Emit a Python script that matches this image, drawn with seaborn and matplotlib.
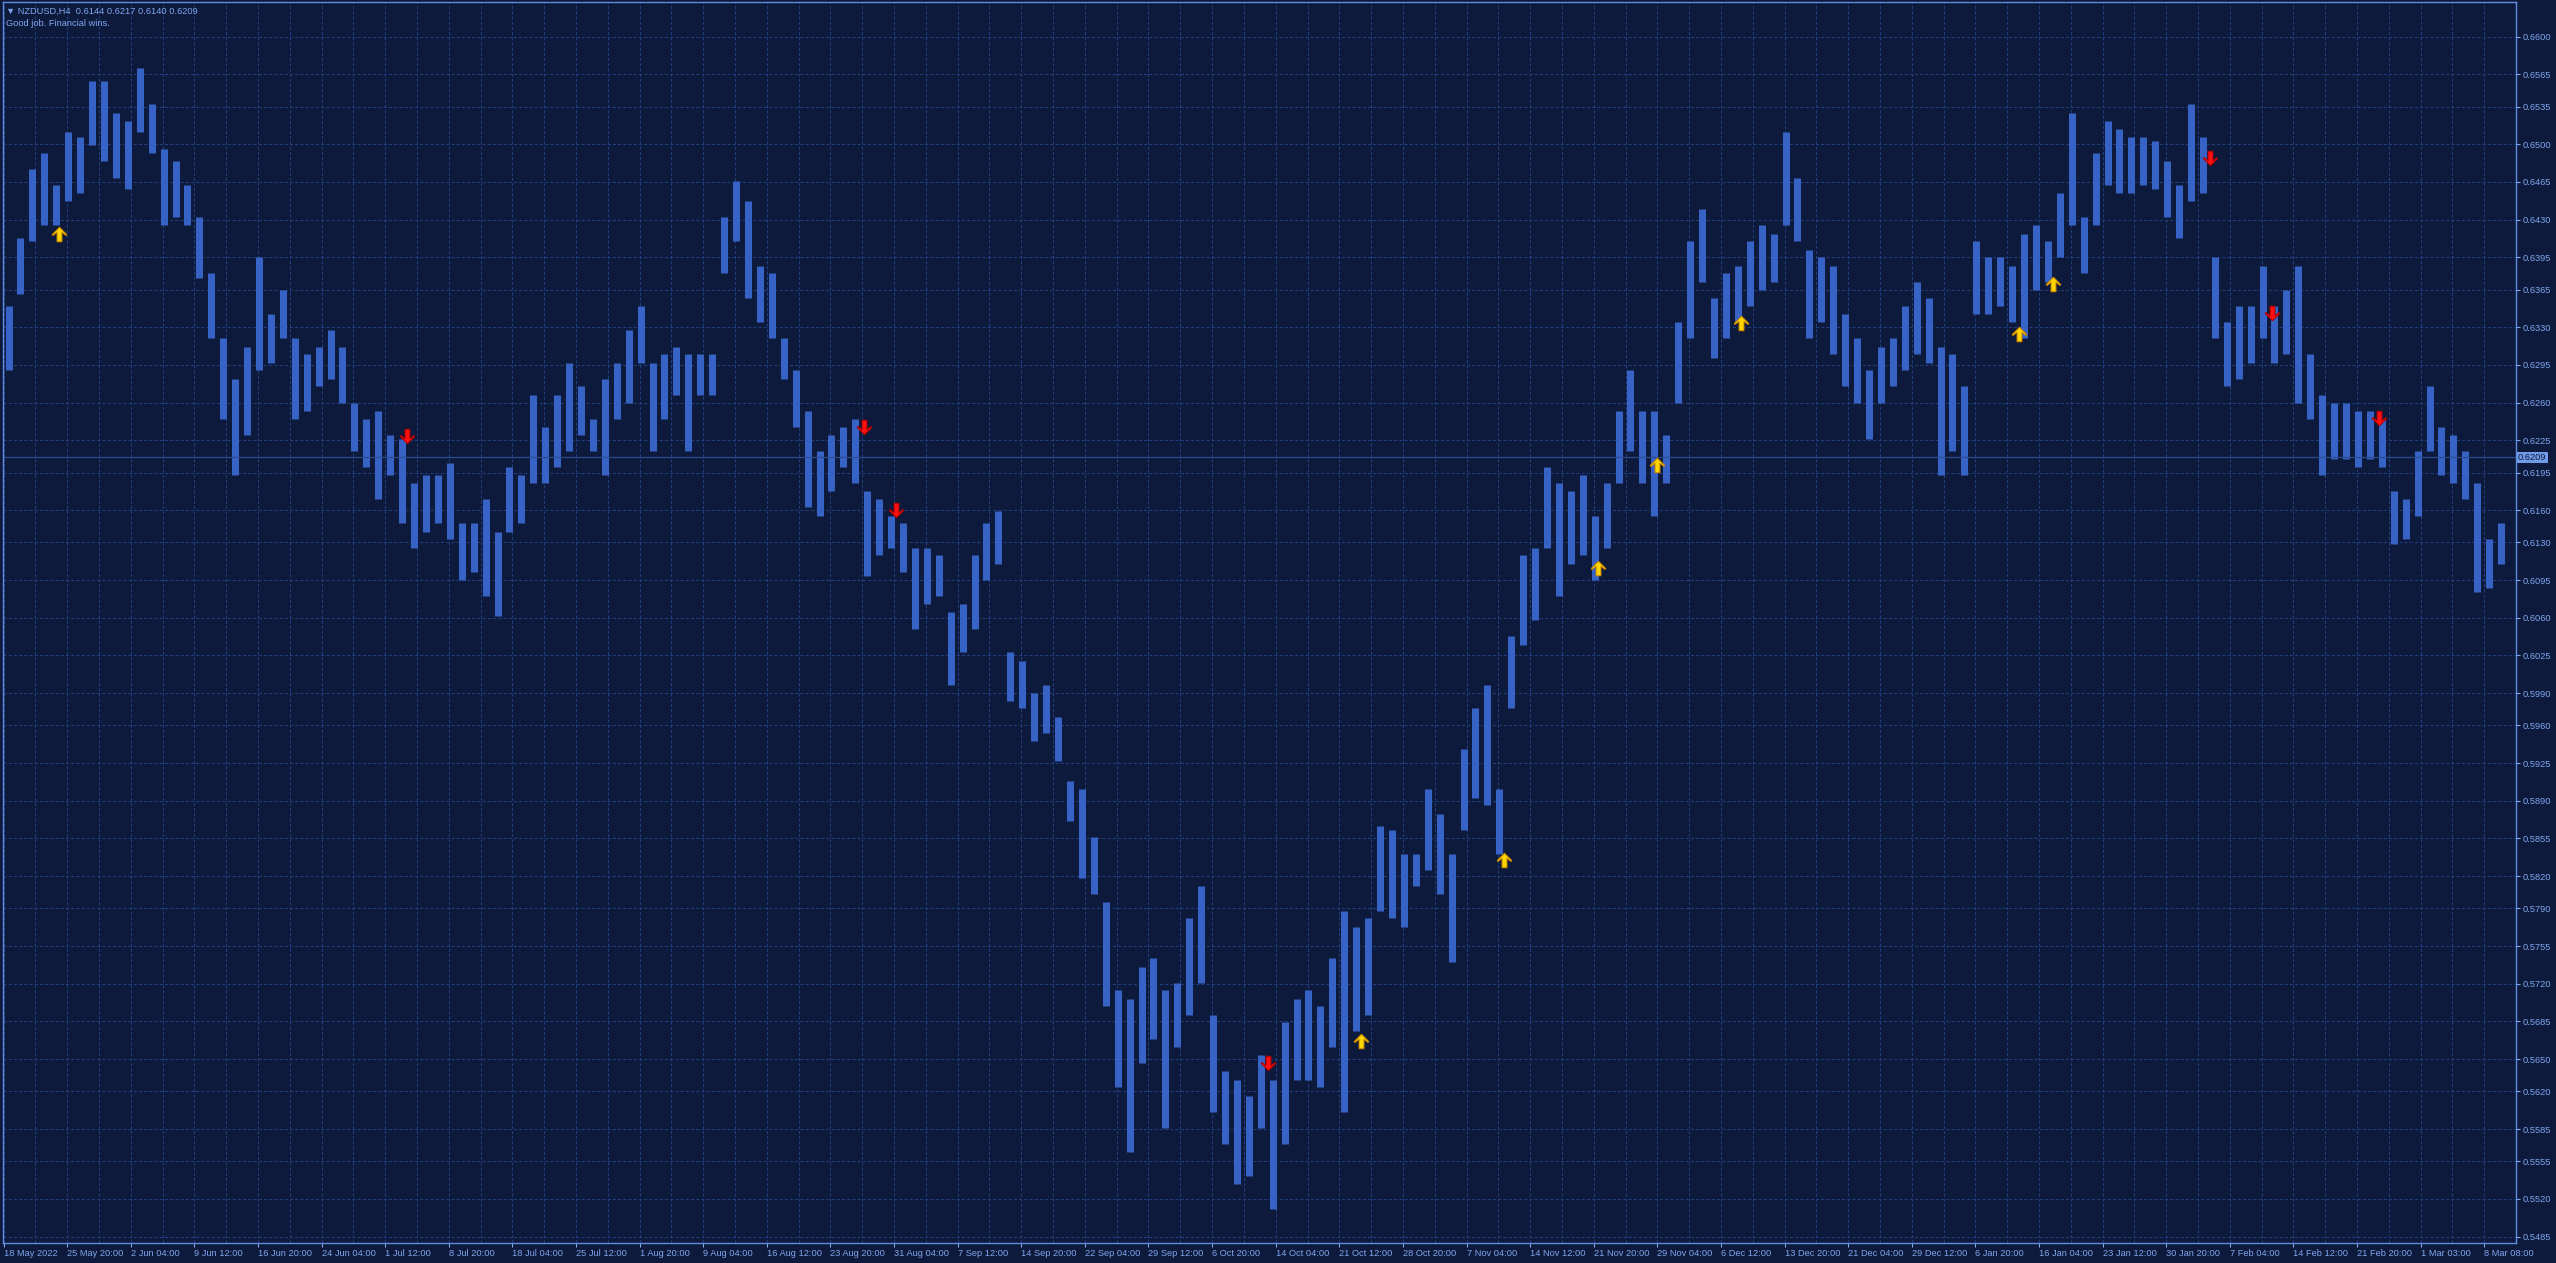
import matplotlib
matplotlib.use("Agg")
import matplotlib.pyplot as plt
from matplotlib.path import Path
from matplotlib.transforms import blended_transform_factory
import numpy as np
import seaborn as sns

day_high = [
    0.6350, 0.6413, 0.6477, 0.6492, 0.6462, 0.6511, 0.6507, 0.6559, 0.6559, 0.6529,
    0.6522, 0.6571, 0.6537, 0.6496, 0.6484, 0.6462, 0.6432, 0.6380, 0.6320, 0.6282,
    0.6312, 0.6395, 0.6342, 0.6365, 0.6320, 0.6305, 0.6312, 0.6327, 0.6312, 0.6260,
    0.6245, 0.6252, 0.6230, 0.6226, 0.6185, 0.6193, 0.6193, 0.6204, 0.6148, 0.6148,
    0.6170, 0.6140, 0.6200, 0.6193, 0.6267, 0.6237, 0.6267, 0.6297, 0.6275, 0.6245,
    0.6282, 0.6297, 0.6327, 0.6350, 0.6297, 0.6305, 0.6312, 0.6305, 0.6305, 0.6305,
    0.6432, 0.6466, 0.6447, 0.6387, 0.6380, 0.6320, 0.6290, 0.6252, 0.6215, 0.6230,
    0.6237, 0.6245, 0.6178, 0.6170, 0.6155, 0.6148, 0.6125, 0.6125, 0.6118, 0.6065,
    0.6073, 0.6118, 0.6148, 0.6159, 0.6028, 0.6020, 0.5990, 0.5998, 0.5968, 0.5908,
    0.5901, 0.5856, 0.5796, 0.5714, 0.5706, 0.5736, 0.5744, 0.5714, 0.5721, 0.5781,
    0.5811, 0.5691, 0.5639, 0.5631, 0.5616, 0.5654, 0.5631, 0.5684, 0.5706, 0.5714,
    0.5699, 0.5744, 0.5788, 0.5773, 0.5781, 0.5867, 0.5863, 0.5841, 0.5841, 0.5901,
    0.5878, 0.5841, 0.5938, 0.5976, 0.5998, 0.5901, 0.6043, 0.6118, 0.6125, 0.6200,
    0.6185, 0.6178, 0.6193, 0.6155, 0.6185, 0.6252, 0.6290, 0.6252, 0.6252, 0.6230,
    0.6335, 0.6410, 0.6440, 0.6357, 0.6380, 0.6387, 0.6410, 0.6425, 0.6417, 0.6511,
    0.6469, 0.6402, 0.6395, 0.6387, 0.6342, 0.6320, 0.6290, 0.6312, 0.6320, 0.6350,
    0.6372, 0.6357, 0.6312, 0.6305, 0.6275, 0.6410, 0.6395, 0.6395, 0.6387, 0.6417,
    0.6425, 0.6410, 0.6455, 0.6529, 0.6432, 0.6492, 0.6522, 0.6514, 0.6507, 0.6507,
    0.6503, 0.6484, 0.6462, 0.6537, 0.6507, 0.6395, 0.6335, 0.6350, 0.6350, 0.6387,
    0.6350, 0.6365, 0.6387, 0.6305, 0.6267, 0.6260, 0.6260, 0.6252, 0.6252, 0.6245,
    0.6178, 0.6170, 0.6215, 0.6275, 0.6237, 0.6230, 0.6215, 0.6185, 0.6133, 0.6148,
]
day_low = [
    0.6290, 0.6361, 0.6410, 0.6425, 0.6425, 0.6447, 0.6455, 0.6499, 0.6484, 0.6469,
    0.6458, 0.6511, 0.6492, 0.6425, 0.6432, 0.6425, 0.6376, 0.6320, 0.6245, 0.6193,
    0.6230, 0.6290, 0.6297, 0.6320, 0.6245, 0.6252, 0.6275, 0.6282, 0.6260, 0.6215,
    0.6200, 0.6170, 0.6193, 0.6148, 0.6125, 0.6140, 0.6148, 0.6133, 0.6095, 0.6103,
    0.6080, 0.6062, 0.6140, 0.6148, 0.6185, 0.6185, 0.6200, 0.6215, 0.6230, 0.6215,
    0.6193, 0.6245, 0.6260, 0.6297, 0.6215, 0.6245, 0.6267, 0.6215, 0.6267, 0.6267,
    0.6380, 0.6410, 0.6357, 0.6335, 0.6320, 0.6282, 0.6237, 0.6163, 0.6155, 0.6178,
    0.6200, 0.6185, 0.6099, 0.6118, 0.6125, 0.6103, 0.6050, 0.6073, 0.6080, 0.5998,
    0.6028, 0.6050, 0.6095, 0.6110, 0.5983, 0.5976, 0.5946, 0.5953, 0.5927, 0.5871,
    0.5818, 0.5803, 0.5699, 0.5624, 0.5564, 0.5646, 0.5669, 0.5586, 0.5661, 0.5691,
    0.5721, 0.5601, 0.5571, 0.5534, 0.5541, 0.5586, 0.5511, 0.5571, 0.5631, 0.5631,
    0.5624, 0.5661, 0.5601, 0.5676, 0.5691, 0.5788, 0.5781, 0.5773, 0.5811, 0.5826,
    0.5803, 0.5740, 0.5863, 0.5893, 0.5886, 0.5841, 0.5976, 0.6035, 0.6058, 0.6125,
    0.6080, 0.6110, 0.6118, 0.6095, 0.6125, 0.6185, 0.6215, 0.6185, 0.6155, 0.6185,
    0.6260, 0.6320, 0.6372, 0.6301, 0.6320, 0.6335, 0.6350, 0.6365, 0.6372, 0.6425,
    0.6410, 0.6320, 0.6335, 0.6305, 0.6275, 0.6260, 0.6226, 0.6260, 0.6275, 0.6290,
    0.6305, 0.6297, 0.6193, 0.6215, 0.6193, 0.6342, 0.6342, 0.6350, 0.6335, 0.6320,
    0.6365, 0.6372, 0.6395, 0.6425, 0.6380, 0.6425, 0.6462, 0.6455, 0.6455, 0.6462,
    0.6458, 0.6432, 0.6413, 0.6447, 0.6455, 0.6320, 0.6275, 0.6282, 0.6297, 0.6320,
    0.6297, 0.6305, 0.6260, 0.6245, 0.6193, 0.6208, 0.6208, 0.6200, 0.6208, 0.6200,
    0.6129, 0.6133, 0.6155, 0.6215, 0.6193, 0.6185, 0.6170, 0.6084, 0.6088, 0.6110,
]

date_labels = [
    "18 May 2022", "25 May 20:00", "2 Jun 04:00", "9 Jun 12:00", "16 Jun 20:00",
    "24 Jun 04:00", "1 Jul 12:00", "8 Jul 20:00", "18 Jul 04:00", "25 Jul 12:00",
    "1 Aug 20:00", "9 Aug 04:00", "16 Aug 12:00", "23 Aug 20:00", "31 Aug 04:00",
    "7 Sep 12:00", "14 Sep 20:00", "22 Sep 04:00", "29 Sep 12:00", "6 Oct 20:00",
    "14 Oct 04:00", "21 Oct 12:00", "28 Oct 20:00", "7 Nov 04:00", "14 Nov 12:00",
    "21 Nov 20:00", "29 Nov 04:00", "6 Dec 12:00", "13 Dec 20:00", "21 Dec 04:00",
    "29 Dec 12:00", "6 Jan 20:00", "16 Jan 04:00", "23 Jan 12:00", "30 Jan 20:00",
    "7 Feb 04:00", "14 Feb 12:00", "21 Feb 20:00", "1 Mar 03:00", "8 Mar 08:00",
]
price_ticks = [
    0.6600, 0.6565, 0.6535, 0.6500, 0.6465, 0.6430, 0.6395, 0.6365, 0.6330, 0.6295,
    0.6260, 0.6225, 0.6195, 0.6160, 0.6130, 0.6095, 0.6060, 0.6025, 0.5990, 0.5960,
    0.5925, 0.5890, 0.5855, 0.5820, 0.5790, 0.5755, 0.5720, 0.5685, 0.5650, 0.5620,
    0.5585, 0.5555, 0.5520, 0.5485,
]

# Signalpfeile (Kerzenindex, Preis)
buy_bar = [28, 683, 755, 802, 832, 874, 1014, 1031]
buy_price = [0.6417, 0.5667, 0.5835, 0.6106, 0.6202, 0.6334, 0.6324, 0.6370]
sell_bar = [203, 433, 449, 636, 1110, 1141, 1195]
sell_price = [0.6229, 0.6237, 0.6160, 0.5646, 0.6487, 0.6343, 0.6246]

bid = 0.6209
header = "\u25bc NZDUSD,H4  0.6144 0.6217 0.6140 0.6209"
comment = "Good job. Financial wins."

bg = "#0e1a3b"
fg = "#7fa6ef"
grid_col = "#213f7e"
bar_col = "#3863c6"

sns.set_theme(style="dark", rc={"axes.facecolor": bg, "figure.facecolor": bg})
plt.rcParams["font.family"] = ["Liberation Sans", "DejaVu Sans"]

W, H = 2556, 1263
fig = plt.figure(figsize=(W / 100, H / 100), dpi=100)
ax = fig.add_axes([3 / W, 20 / H, 2513 / W, 1241 / H])

# Tagesbalken (6 H4-Kerzen pro Tag, 2 px pro Kerze)
days = np.arange(len(day_high))
ax.vlines(days * 6 + 2.5, day_low, day_high, color=bar_col, lw=7 * 0.72)

ax.axhline(bid, color="#2b4b8f", lw=0.9)

# Pfeile
up = Path([(0, 0.5), (0.5, 0.0), (0.45, -0.07), (0.17, 0.15), (0.17, -0.5),
           (-0.17, -0.5), (-0.17, 0.15), (-0.45, -0.07), (-0.5, 0.0), (0, 0.5)],
          [Path.MOVETO] + [Path.LINETO] * 8 + [Path.CLOSEPOLY])
down = Path([(x, -y) for x, y in up.vertices], up.codes)
sns.scatterplot(x=buy_bar, y=buy_price, marker=up, s=110, color="#ffd500",
                edgecolor="#c98400", linewidth=0.7, ax=ax, zorder=5)
sns.scatterplot(x=sell_bar, y=sell_price, marker=down, s=110, color="#ff1010",
                edgecolor="#a80000", linewidth=0.7, ax=ax, zorder=5)

ax.set_xlim(-0.3, 1256.2)
ax.set_ylim(0.54791, 0.66322)

# Achsen
ax.set_xticks(np.arange(len(date_labels)) * 32)
ax.set_xticks(np.arange(len(date_labels)) * 32 + 16, minor=True)
ax.set_xticklabels(date_labels, ha="left")
ax.set_yticks(price_ticks)
ax.set_yticklabels([f"{p:.4f}" for p in price_ticks])
ax.yaxis.tick_right()
ax.tick_params(axis="x", which="major", length=3, width=0.8, color=fg, labelsize=6.7,
               labelcolor=fg, pad=1.5, bottom=True)
ax.tick_params(axis="x", which="minor", length=0, bottom=True)
ax.tick_params(axis="y", length=3, width=0.8, color=fg, labelsize=6.7, labelcolor=fg,
               pad=1.5, right=True, left=False)

ax.grid(True, axis="x", which="both", color=grid_col, ls=(0, (3, 2)), lw=0.75)
ax.grid(True, axis="y", which="major", color=grid_col, ls=(0, (3, 2)), lw=0.75)
ax.set_axisbelow(True)
for s in ax.spines.values():
    s.set_visible(True)
    s.set_color("#5f8ce0")
    s.set_linewidth(1.0)
ax.set_xlabel("")
ax.set_ylabel("")

# aktueller Kurs
tr = blended_transform_factory(ax.transAxes, ax.transData)
ax.text(1.0 + 2 / 2513, bid, f"{bid:.4f}", transform=tr, ha="left", va="center",
        fontsize=6.7, color="#0e1a3b",
        bbox=dict(boxstyle="square,pad=0.15", fc="#6f9be8", ec="none"), zorder=6)

fig.text(6 / W, 1 - 11 / H, header, fontsize=6.7, color=fg, va="center", ha="left")
fig.text(6 / W, 1 - 24 / H, comment, fontsize=6.7, color=fg, va="center", ha="left")

fig.savefig("out.png", dpi=100, facecolor=bg)
